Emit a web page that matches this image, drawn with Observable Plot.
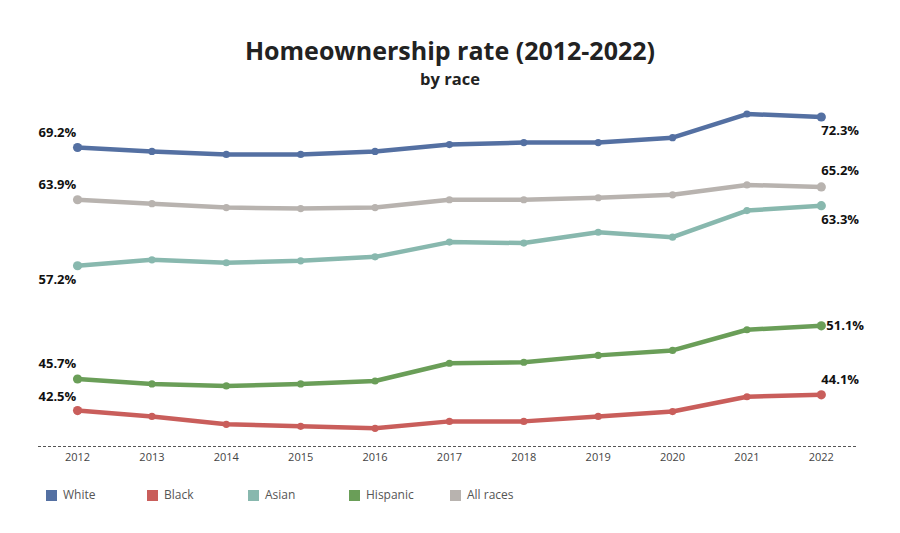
<!DOCTYPE html>
<html>
<head>
<meta charset="utf-8">
<script src="https://cdn.jsdelivr.net/npm/d3@7"></script>
<script src="https://cdn.jsdelivr.net/npm/@observablehq/plot@0.6"></script>
<style>
  body { margin: 0; background: #fff; font-family: "Open Sans", sans-serif; }
  #wrap { width: 900px; height: 533px; position: relative; overflow: hidden; }
  #head { height: 95px; box-sizing: border-box; padding-top: 37px; text-align: center; color: #222; }
  #title { font-size: 25px; font-weight: 700; line-height: 26px; height: 26px; }
  #sub { font-size: 16.5px; font-weight: 700; line-height: 18px; height: 18px; margin-top: 7px; }
  #legend { position: absolute; top: 489px; left: 46px; display: flex; }
  .item { width: 101px; display: flex; align-items: center; font-size: 12px; color: #555; line-height: 12px; }
  .sw { width: 11px; height: 11px; margin-right: 6px; }
</style>
</head>
<body>
<div id="wrap">
  <div id="head">
    <div id="title">Homeownership rate (2012-2022)</div>
    <div id="sub">by race</div>
  </div>
  <div id="chart"></div>
  <div id="legend"></div>
</div>
<script>
const years = [2012, 2013, 2014, 2015, 2016, 2017, 2018, 2019, 2020, 2021, 2022];
const seriesNames = ["White", "Black", "Asian", "Hispanic", "All races"];
const white    = [69.2, 68.8, 68.5, 68.5, 68.8, 69.5, 69.7, 69.7, 70.2, 72.6, 72.3];
const black    = [42.5, 41.9, 41.1, 40.9, 40.7, 41.4, 41.4, 41.9, 42.4, 43.9, 44.1];
const asian    = [57.2, 57.8, 57.5, 57.7, 58.1, 59.6, 59.5, 60.6, 60.1, 62.8, 63.3];
const hispanic = [45.7, 45.2, 45.0, 45.2, 45.5, 47.3, 47.4, 48.1, 48.6, 50.7, 51.1];
const allRaces = [63.9, 63.5, 63.1, 63.0, 63.1, 63.9, 63.9, 64.1, 64.4, 65.4, 65.2];
const colors = ["#5470a2", "#c95e5b", "#88b8ae", "#6a9e58", "#b8b3af"];

const valuesBySeries = [white, black, asian, hispanic, allRaces];
const data = [];
seriesNames.forEach((s, i) => years.forEach((y, j) => data.push({series: s, year: y, value: valuesBySeries[i][j]})));

// label placement (style)
const leftDy = {"White": -15, "Black": -14, "Asian": 14, "Hispanic": -15, "All races": -15};
const rightDy = {"White": 14, "Black": -15, "Asian": 14, "Hispanic": 0, "All races": -16};
const rightDx = {"White": 0, "Black": 0, "Asian": 0, "Hispanic": 5, "All races": 0};

const first = data.filter(d => d.year === years[0]);
const last = data.filter(d => d.year === years[years.length - 1]);
const fmt = d => d.value.toFixed(1) + "%";

const color = {domain: seriesNames, range: colors};

const labelMarks = [];
for (const d of first) {
  labelMarks.push(Plot.text([d], {x: "year", y: "value", text: fmt, dx: -39, dy: leftDy[d.series], textAnchor: "start", fontWeight: 700, fontSize: 13, fill: "#111"}));
}
for (const d of last) {
  labelMarks.push(Plot.text([d], {x: "year", y: "value", text: fmt, dx: rightDx[d.series], dy: rightDy[d.series], textAnchor: "start", fontWeight: 700, fontSize: 13, fill: "#111"}));
}

const chart = Plot.plot({
  width: 900,
  height: 375,
  marginLeft: 38,
  marginRight: 42,
  marginTop: 0,
  marginBottom: 24,
  style: {fontFamily: "Open Sans, sans-serif", background: "transparent"},
  x: {domain: [2011.475, 2022.5], axis: null, label: null},
  y: {domain: [38.85, 74.48], axis: null, label: null},
  color,
  marks: [
    Plot.ruleY([38.85], {stroke: "#555", strokeWidth: 1, strokeDasharray: "3,2"}),
    Plot.axisX(years, {tickSize: 0, tickPadding: 7, tickFormat: d => String(d), fontSize: 11, fill: "#444", label: null}),
    Plot.line(data, {x: "year", y: "value", z: "series", stroke: "series", strokeWidth: 4.5, strokeLinejoin: "round", strokeLinecap: "round"}),
    Plot.dot(data.filter(d => d.year !== years[0] && d.year !== years[years.length - 1]), {x: "year", y: "value", fill: "series", r: 3.6}),
    Plot.dot(first.concat(last), {x: "year", y: "value", fill: "series", r: 4.6}),
    ...labelMarks
  ]
});
document.getElementById("chart").appendChild(chart);

const legend = document.getElementById("legend");
seriesNames.forEach((s, i) => {
  const it = document.createElement("div");
  it.className = "item";
  const sw = document.createElement("div");
  sw.className = "sw";
  sw.style.background = colors[i];
  const t = document.createElement("span");
  t.textContent = s;
  it.appendChild(sw);
  it.appendChild(t);
  legend.appendChild(it);
});
</script>
</body>
</html>
